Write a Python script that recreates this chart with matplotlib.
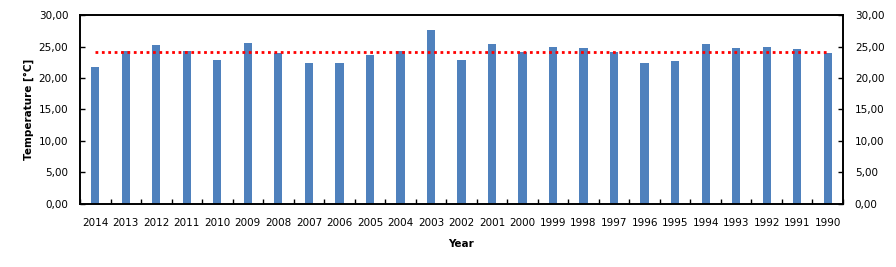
import matplotlib
matplotlib.use("Agg")
import matplotlib.pyplot as plt
import numpy as np

years = ["2014", "2013", "2012", "2011", "2010", "2009", "2008", "2007", "2006",
         "2005", "2004", "2003", "2002", "2001", "2000", "1999", "1998", "1997",
         "1996", "1995", "1994", "1993", "1992", "1991", "1990"]
temps = [21.75, 24.29, 25.24, 24.29, 22.86, 25.56, 23.97, 22.38, 22.38,
         23.65, 24.29, 27.62, 22.86, 25.40, 24.13, 24.92, 24.76, 24.13,
         22.38, 22.70, 25.40, 24.76, 24.92, 24.60, 23.97]
avg_temp = 24.1
yticks = [0, 5, 10, 15, 20, 25, 30]
ytick_labels = ["0,00", "5,00", "10,00", "15,00", "20,00", "25,00", "30,00"]

fig = plt.figure(figsize=(8.96, 2.67), dpi=100)
ax = fig.add_axes([0.0893, 0.236, 0.8515, 0.7078])

x = np.arange(len(years))
ax.bar(x, temps, width=0.27, color="#4F81BD", zorder=2)
# average line
ax.plot([x[0], x[-1]], [avg_temp, avg_temp], color="#FF0000", lw=2.0,
        linestyle=(0, (1, 1.3)), dash_capstyle="butt", zorder=3)

ax.set_xlim(-0.5, len(years) - 0.5)
ax.set_ylim(0, 30)
ax.set_yticks(yticks)
ax.set_yticklabels(ytick_labels)
ax.set_xticks(x)
ax.set_xticklabels(years)
ax.set_xticks(np.arange(len(years) + 1) - 0.5, minor=True)
ax.tick_params(axis="x", which="major", length=0, pad=10, labelsize=7.5)
ax.tick_params(axis="x", which="minor", direction="in", length=3.5, width=1)
ax.tick_params(axis="y", direction="in", length=3.5, width=1, pad=8.5, labelsize=7.5)
for s in ax.spines.values():
    s.set_linewidth(1.2)

ax2 = ax.twinx()
ax2.set_ylim(0, 30)
ax2.set_yticks(yticks)
ax2.set_yticklabels(ytick_labels)
ax2.tick_params(axis="y", direction="in", length=3.5, width=1, pad=8.5, labelsize=7.5)
for s in ax2.spines.values():
    s.set_linewidth(1.2)

ax.set_xlabel("Year", fontsize=7.5, fontweight="bold", labelpad=8)
ax.set_ylabel("Temperature [°C]", fontsize=7.5, fontweight="bold", labelpad=3)

fig.savefig("out.png", dpi=100)
